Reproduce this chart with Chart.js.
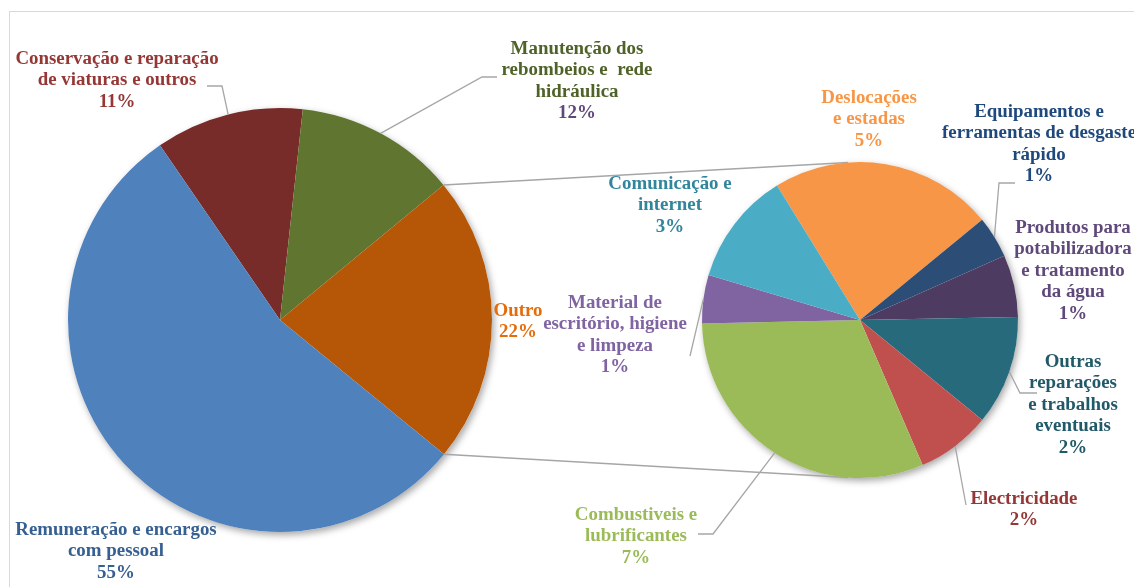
<!DOCTYPE html>
<html>
<head>
<meta charset="utf-8">
<script src="https://cdn.jsdelivr.net/npm/chart.js@4/dist/chart.umd.min.js"></script>
<style>
  body { margin: 0; background: #fff; }
  #wrap { position: relative; width: 1134px; height: 587px; overflow: hidden; }
  #frame { position: absolute; left: 9px; top: 11px; width: 1200px; height: 700px; border: 1.5px solid #d9d9d9; }
  canvas { position: absolute; left: 0; top: 0; }
</style>
</head>
<body>
<div id="wrap">
  <div id="frame"></div>
  <canvas id="mainPie" width="1134" height="587"></canvas>
  <canvas id="subPie" width="1134" height="587"></canvas>
</div>
<script>
// main pie
const mainLabels = [
  ['Conservação e reparação', 'de viaturas e outros'],
  ['Manutenção dos', 'rebombeios e  rede', 'hidráulica'],
  ['Outro'],
  ['Remuneração e encargos', 'com pessoal']
];
const mainValues = [11.3, 12.3, 21.9, 54.5];
const mainPercent = ['11%', '12%', '22%', '55%'];
const mainColors = ['#772C2A', '#5F7530', '#B65708', '#4F81BD'];
const mainTextColors = ['#953735', '#4F6228', '#E46C0A', '#376092'];
const mainPctColors = ['#953735', '#5F497A', '#E46C0A', '#376092'];

// breakdown of "Outro"
const subLabels = [
  ['Deslocações', 'e estadas'],
  ['Equipamentos e', 'ferramentas de desgaste', 'rápido'],
  ['Produtos para', 'potabilizadora', 'e tratamento', 'da água'],
  ['Outras', 'reparações', 'e trabalhos', 'eventuais'],
  ['Electricidade'],
  ['Combustiveis e', 'lubrificantes'],
  ['Material de', 'escritório, higiene', 'e limpeza'],
  ['Comunicação e', 'internet']
];
const subValues = [5.03, 0.94, 1.40, 2.47, 1.67, 6.85, 1.09, 2.55];
const subPercent = ['5%', '1%', '1%', '2%', '2%', '7%', '1%', '3%'];
const subColors = ['#F79646', '#2C4D75', '#4D3B62', '#276A7C', '#C0504D', '#9BBB59', '#8064A2', '#4BACC6'];
const subTextColors = ['#F79646', '#1F497D', '#5F497A', '#215968', '#953735', '#9BBB59', '#8064A2', '#31859C'];

// layout (label anchors, leader bends)
const FONT = 'bold 18.9px "Liberation Serif", "Times New Roman", serif';
const LINE_H = 21.5;
const mainLabelPos = [[117, 59], [577, 49], [518, 311], [116, 530]];
const mainLeaders = [[[222, 86], [207, 86]], [[482, 77], [497, 77]], null, null];
const subLabelPos = [[869, 98], [1039, 112], [1073, 228], [1073, 362], [1024, 499], [636, 515], [615, 303], [670, 184]];
const subLeaders = [null, [[999, 183], [1015, 183]], null, [[1020, 393], [1037, 393]], [[966, 505]], [[713, 534], [698, 534]], [[690, 356]], null];
const connectorAngles = [-4.3, 184.3]; // where the connectors meet the small pie, deg from top

function labelPlugin(lines, pcts, textColors, pctColors, pos, leaders) 
{
  return {
    id: 'pieLabels',
    beforeDatasetsDraw(chart) {
      // soft shadow under the whole pie
      const a = chart.getDatasetMeta(0).data[0];
      const ctx = chart.ctx;
      ctx.save();
      ctx.shadowColor = 'rgba(0,0,0,0.35)';
      ctx.shadowBlur = 7;
      ctx.shadowOffsetX = 2;
      ctx.shadowOffsetY = 3;
      ctx.fillStyle = '#fff';
      ctx.beginPath();
      ctx.arc(a.x, a.y, a.outerRadius, 0, Math.PI * 2);
      ctx.fill();
      ctx.restore();
    },
    afterDatasetsDraw(chart) {
      const ctx = chart.ctx;
      ctx.save();
      ctx.font = FONT;
      ctx.textAlign = 'center';
      ctx.textBaseline = 'middle';
      chart.getDatasetMeta(0).data.forEach((arc, i) => {
        if (leaders[i]) {
          const mid = (arc.startAngle + arc.endAngle) / 2;
          ctx.strokeStyle = '#a6a6a6';
          ctx.lineWidth = 1.3;
          ctx.beginPath();
          ctx.moveTo(arc.x + arc.outerRadius * Math.cos(mid), arc.y + arc.outerRadius * Math.sin(mid));
          leaders[i].forEach(p => ctx.lineTo(p[0], p[1]));
          ctx.stroke();
        }
        const txt = lines[i].concat([pcts[i]]);
        txt.forEach((t, j) => {
          ctx.fillStyle = j === txt.length - 1 ? pctColors[i] : textColors[i];
          ctx.fillText(t, pos[i][0], pos[i][1] + j * LINE_H);
        });
      });
      ctx.restore();
    }
  };
}

function pieConfig(labels, values, colors, rotation, padding, plugin) 
{
  return {
    type: 'pie',
    data: {
      labels: labels.map(l => l.join(' ')),
      datasets: [{ data: values, backgroundColor: colors, borderWidth: 0 }]
    },
    options: {
      responsive: false,
      animation: false,
      events: [],
      rotation: rotation,
      layout: { padding: padding },
      plugins: { legend: { display: false }, tooltip: { enabled: false } }
    },
    plugins: [plugin]
  };
}

const mainChart = new Chart(document.getElementById('mainPie'), pieConfig(
  mainLabels, mainValues, mainColors, -34.5,
  { left: 68, right: 642, top: 108, bottom: 55 },
  labelPlugin(mainLabels, mainPercent, mainTextColors, mainPctColors, mainLabelPos, mainLeaders)
));

const connectorPlugin = {
  id: 'connectors',
  beforeDatasetsDraw(chart) {
    const outro = mainChart.getDatasetMeta(0).data[2];
    const sub = chart.getDatasetMeta(0).data[0];
    const ends = [outro.startAngle, outro.endAngle];
    const ctx = chart.ctx;
    ctx.save();
    ctx.strokeStyle = '#a6a6a6';
    ctx.lineWidth = 1.5;
    ends.forEach((a, i) => {
      const b = connectorAngles[i] * Math.PI / 180 - Math.PI / 2;
      ctx.beginPath();
      ctx.moveTo(outro.x + outro.outerRadius * Math.cos(a), outro.y + outro.outerRadius * Math.sin(a));
      ctx.lineTo(sub.x + sub.outerRadius * Math.cos(b), sub.y + sub.outerRadius * Math.sin(b));
      ctx.stroke();
    });
    ctx.restore();
  }
};

const subChart = new Chart(document.getElementById('subPie'), pieConfig(
  subLabels, subValues, subColors, -31.7,
  { left: 702, right: 116, top: 162, bottom: 109 },
  labelPlugin(subLabels, subPercent, subTextColors, subTextColors, subLabelPos, subLeaders)
));
subChart.config.plugins.push(connectorPlugin);
subChart.update();
</script>
</body>
</html>
